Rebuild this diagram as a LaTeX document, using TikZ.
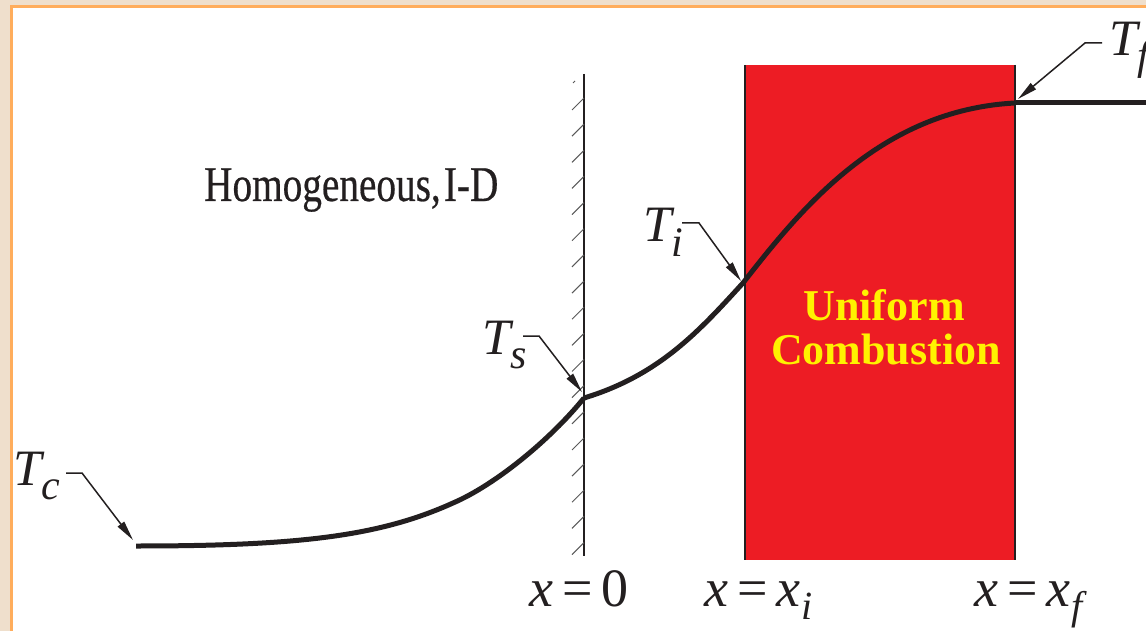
\documentclass[tikz,border=0pt]{standalone}
\usepackage{fontspec}
\setmainfont{Liberation Serif}
\newfontfamily\homfont[FakeBold=0.5]{Liberation Serif}
\usetikzlibrary{arrows.meta}
\definecolor{bgbeige}{HTML}{EFDFCC}
\definecolor{frameorange}{HTML}{FFAD5C}
\definecolor{combred}{HTML}{ED1C24}
\definecolor{combyellow}{HTML}{FFF200}
\definecolor{ink}{HTML}{231F20}
\newcommand\Tlab[1]{\fontsize{51}{51}\selectfont\textit{T}\kern-3pt\raisebox{-14pt}{\fontsize{42}{42}\selectfont\textit{#1}}}
\newcommand\xsub[1]{\textit{x}\kern1pt\raisebox{-13pt}{\fontsize{40}{40}\selectfont\textit{#1}}}
\newcommand\xeq[1]{\fontsize{54}{54}\selectfont\textit{x}\kern9pt=\kern9pt#1}
\begin{document}
\begin{tikzpicture}[x=1pt,y=-1pt,
  curve/.style={line width=5pt, draw=ink, line join=round, line cap=butt},
  leader/.style={line width=1.5pt, draw=ink, -{Triangle[length=20pt,width=8pt]}},
  hatchline/.style={line width=1pt, draw=black!65},
  edgeline/.style={line width=2pt, draw=ink},
  lab/.style={inner sep=0pt, anchor=base west, text=ink},
  combtext/.style={inner sep=0pt, anchor=base, text=combyellow, font=\fontsize{44}{44}\selectfont\bfseries}]
\useasboundingbox (0,0) rectangle (1146,631);
% frame
\fill[bgbeige] (0,0) rectangle (1146,631);
\fill[white] (11,7) rectangle (1146,631);
\draw[frameorange, line width=2.7pt] (11.3,631) -- (11.3,6.7) -- (1146,6.7);
% combustion zone
\fill[combred] (745,65) rectangle (1015,560);
\coordinate (zl1) at (745,65); \coordinate (zl2) at (745,560);
\coordinate (zr1) at (1015,65); \coordinate (zr2) at (1015,560);
\draw[edgeline] (zl1) -- (zl2);
\draw[edgeline] (zr1) -- (zr2);
\node[combtext] (uni) at (884,320) {Uniform};
\node[combtext] (comb) at (886,364) {Combustion};
% wall
\coordinate (w1) at (584,74); \coordinate (w2) at (584,556);
\draw[ink, line width=2.7pt] (w1) -- (w2);
\foreach \k in {0,...,17} \draw[hatchline] (572,{98+26.15*\k+12}) -- (584,{98+26.15*\k});
\draw[hatchline] (573,83) -- (575,81);
% temperature curve
\coordinate (pc) at (136,546);
\coordinate (pm) at (453,503);
\coordinate (ps) at (584,398);
\coordinate (pi) at (743,283);
\coordinate (pf) at (1015,103);
\coordinate (pe) at (1146,103);
\draw[curve] (pc) .. controls (300,546) and (380,536) .. (pm)
  .. controls (495,485) and (550,440) .. (ps);
\draw[curve] (ps) .. controls (660,375) and (700,330) .. (pi)
  .. controls (800,210) and (880,110) .. (pf);
\draw[curve] (pf) -- (pe);
% labels
\node[lab] (Tc) at (13,485) {\Tlab{c}};
\node[lab] (Ts) at (482,354) {\Tlab{s}};
\node[lab] (Ti) at (643,242) {\Tlab{i}};
\node[lab] (Tf) at (1109,56) {\Tlab{f}};
\coordinate (ac) at (133,540);
\coordinate (as) at (582,392);
\coordinate (ai) at (741,281);
\coordinate (af) at (1018,99);
\draw[leader] (66,473) -- (82,473) -- (ac);
\draw[leader] (523,336) -- (539,336) -- (as);
\draw[leader] (682,223) -- (699,223) -- (ai);
\draw[leader] (1102,43) -- (1085,43) -- (af);
\node[lab, font=\homfont\fontsize{50}{50}\selectfont] (hom) at (204,201) {\scalebox{0.785}[1]{Homogeneous,\kern4pt I-D}};
\node[lab] (x0) at (529,606) {\xeq{0}};
\node[lab] (xi) at (704,606) {\xeq{\xsub{i}}};
\node[lab] (xf) at (974,606) {\xeq{\xsub{f}}};
\end{tikzpicture}
\end{document}
